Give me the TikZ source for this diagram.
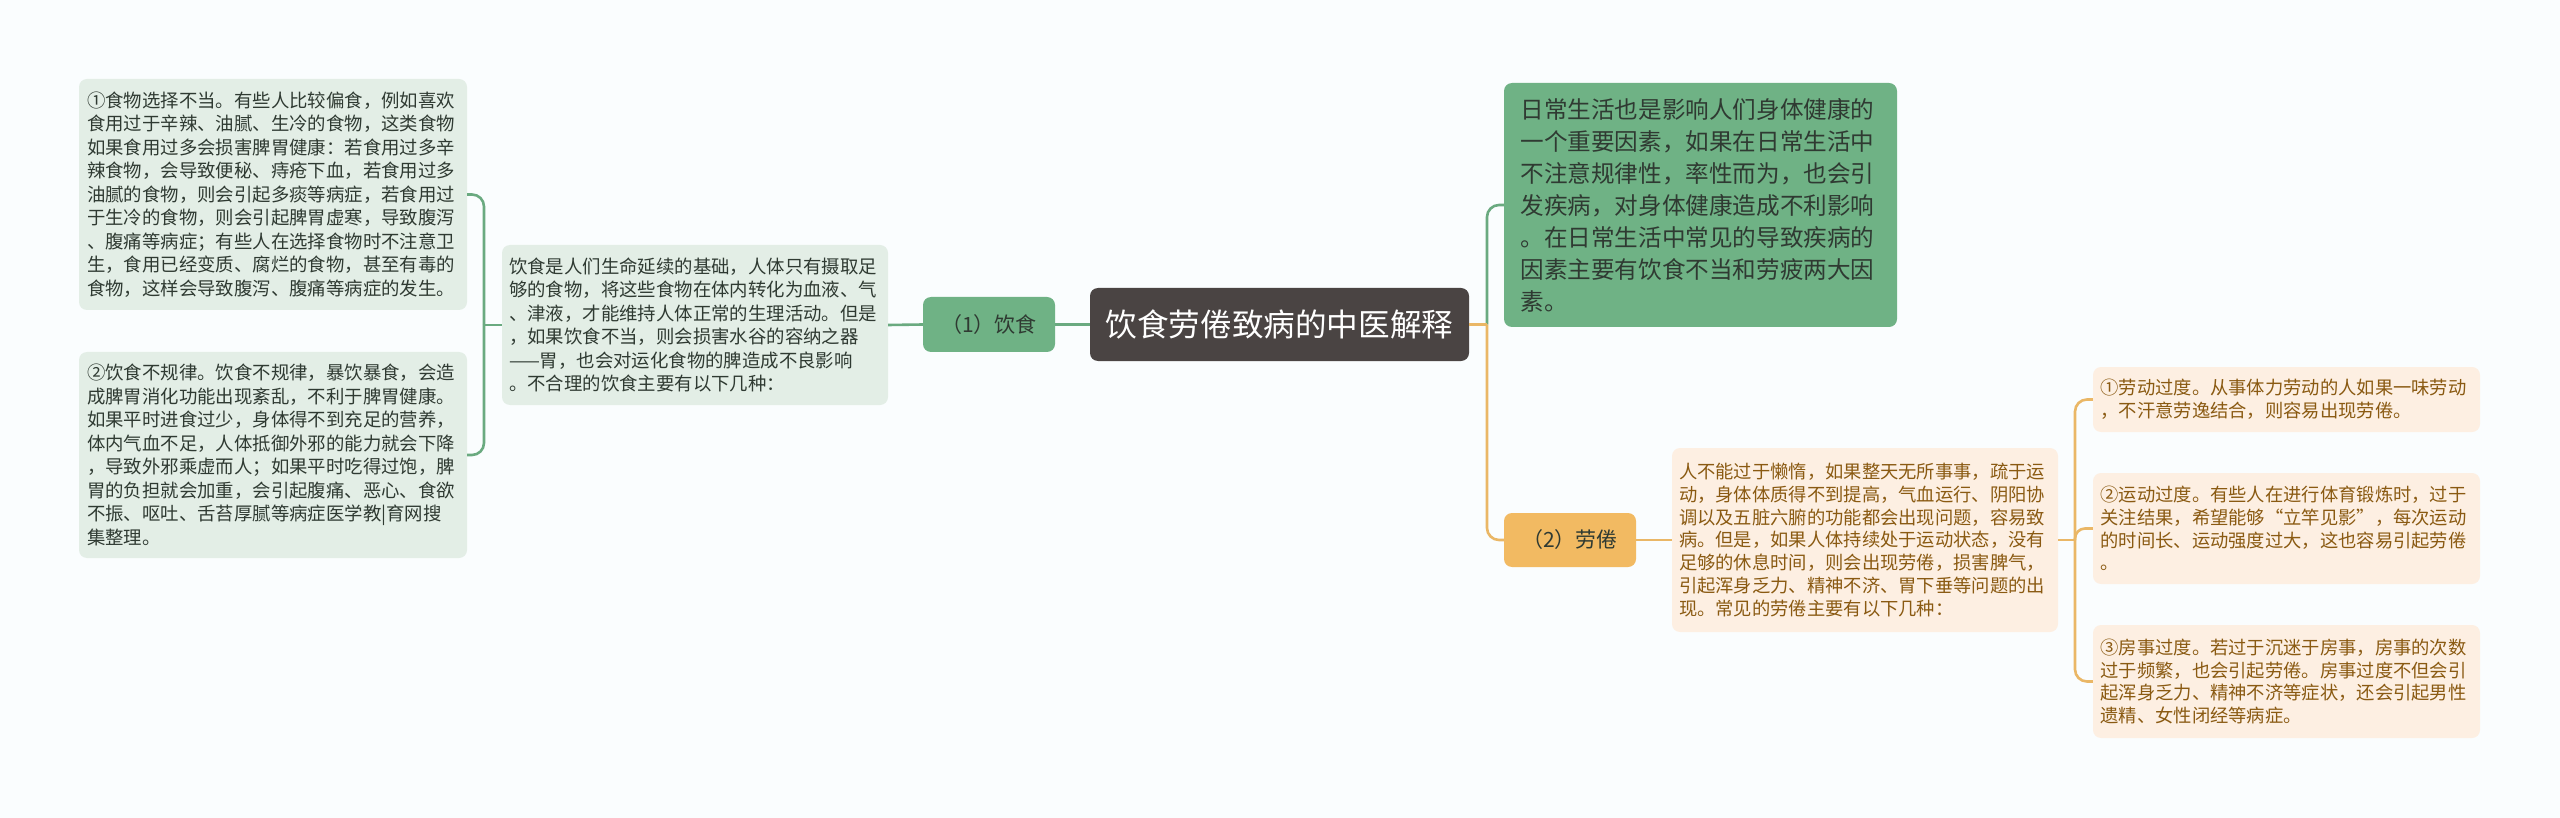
\documentclass[tikz,border=0pt]{standalone}
\usepackage{fontspec}
\setmainfont{Noto Sans CJK SC}
\usepackage{tikz}
\definecolor{ink}{HTML}{4A4443}
\definecolor{mint}{HTML}{6FB285}
\definecolor{mintln}{HTML}{6AAA80}
\definecolor{mintsoft}{HTML}{E3EEE6}
\definecolor{amber}{HTML}{F2BA62}
\definecolor{amberln}{HTML}{EAB766}
\definecolor{peach}{HTML}{FDEFE2}
\definecolor{tan}{HTML}{8A5A12}
\definecolor{leaf}{HTML}{2F3A32}
\definecolor{bg}{HTML}{FAFDFE}
\tikzset{
  box/.style={rounded corners=8pt,inner sep=0pt,align=left},
  sz/.style 2 args={minimum width=#1,minimum height=#2},
  rootbox/.style={box,fill=ink,text=white,font=\fontsize{31.6pt}{38pt}\selectfont},
  gbox/.style={box,fill=mint,text=leaf},
  lbox/.style={box,fill=mintsoft,text=leaf,text width=372pt,font=\fontsize{18.4pt}{23.5pt}\selectfont},
  obox/.style={box,fill=amber,text=leaf,font=\fontsize{21pt}{25pt}\selectfont},
  pbox/.style={box,fill=peach,text=tan,text width=372pt,font=\fontsize{18.3pt}{22.8pt}\selectfont},
  gline/.style={draw=mintln,line width=2.6pt},
  oline/.style={draw=amberln,line width=2.6pt},
}

\begin{document}
\begin{tikzpicture}[x=1pt,y=-1pt]
\fill[bg] (0,0) rectangle (2560,818);
% centre
\node[rootbox,sz={379pt}{73pt}] (root) at (1279.5,324.5) {饮食劳倦致病的中医解释};
% left: diet
\node[obox,fill=mint,sz={132pt}{55pt}] (yinshi) at (989,324.5) {（1）饮食};
\node[lbox,sz={386pt}{160pt}] (dietintro) at (695,325) {饮食是人们生命延续的基础，人体只有摄取足\\够的食物，将这些食物在体内转化为血液、气\\、津液，才能维持人体正常的生理活动。但是\\，如果饮食不当，则会损害水谷的容纳之器\\——胃，也会对运化食物的脾造成不良影响\\。不合理的饮食主要有以下几种：};
\node[lbox,sz={388pt}{231pt}] (dietA) at (273,194.5) {①食物选择不当。有些人比较偏食，例如喜欢\\食用过于辛辣、油腻、生冷的食物，这类食物\\如果食用过多会损害脾胃健康：若食用过多辛\\辣食物，会导致便秘、痔疮下血，若食用过多\\油腻的食物，则会引起多痰等病症，若食用过\\于生冷的食物，则会引起脾胃虚寒，导致腹泻\\、腹痛等病症；有些人在选择食物时不注意卫\\生，食用已经变质、腐烂的食物，甚至有毒的\\食物，这样会导致腹泻、腹痛等病症的发生。};
\node[lbox,sz={388pt}{206pt}] (dietB) at (273,455) {②饮食不规律。饮食不规律，暴饮暴食，会造\\成脾胃消化功能出现紊乱，不利于脾胃健康。\\如果平时进食过少，身体得不到充足的营养，\\体内气血不足，人体抵御外邪的能力就会下降\\，导致外邪乘虚而人；如果平时吃得过饱，脾\\胃的负担就会加重，会引起腹痛、恶心、食欲\\不振、呕吐、舌苔厚腻等病症医学教|育网搜\\集整理。};
% right: overview and fatigue
\node[gbox,sz={393pt}{244pt},text width=360pt,font=\fontsize{23.6pt}{32pt}\selectfont] (overview) at (1700.5,205) {日常生活也是影响人们身体健康的\\一个重要因素，如果在日常生活中\\不注意规律性，率性而为，也会引\\发疾病，对身体健康造成不利影响\\。在日常生活中常见的导致疾病的\\因素主要有饮食不当和劳疲两大因\\素。};
\node[obox,sz={132pt}{54pt}] (fatigue) at (1570,540) {（2）劳倦};
\node[pbox,sz={386pt}{184pt}] (fatigueintro) at (1865,540) {人不能过于懒惰，如果整天无所事事，疏于运\\动，身体体质得不到提高，气血运行、阴阳协\\调以及五脏六腑的功能都会出现问题，容易致\\病。但是，如果人体持续处于运动状态，没有\\足够的休息时间，则会出现劳倦，损害脾气，\\引起浑身乏力、精神不济、胃下垂等问题的出\\现。常见的劳倦主要有以下几种：};
\node[pbox,sz={387pt}{65pt}] (fatigueA) at (2286.5,399.5) {①劳动过度。从事体力劳动的人如果一味劳动\\，不汗意劳逸结合，则容易出现劳倦。};
\node[pbox,sz={387pt}{111pt}] (fatigueB) at (2286.5,528.5) {②运动过度。有些人在进行体育锻炼时，过于\\关注结果，希望能够“立竿见影”，每次运动\\的时间长、运动强度过大，这也容易引起劳倦\\。};
\node[pbox,sz={387pt}{113pt}] (fatigueC) at (2286.5,681.5) {③房事过度。若过于沉迷于房事，房事的次数\\过于频繁，也会引起劳倦。房事过度不但会引\\起浑身乏力、精神不济等症状，还会引起男性\\遗精、女性闭经等病症。};
% forks
\coordinate (dietfork) at (484,325);
\coordinate (rootfork) at (1487,324.5);
\coordinate (fatiguefork) at (2075,540);
% connectors
\draw[gline] (root.west) -- (yinshi.east);
\draw[gline] (yinshi.west) -- (dietintro.east);
\draw[gline] (dietintro.west) -- (dietfork);
\draw[gline,rounded corners=12pt] (dietfork) |- (dietA.east);
\draw[gline,rounded corners=12pt] (dietfork) |- (dietB.east);
\draw[oline,rounded corners=12pt] (rootfork) |- (fatigue.west);
\draw[gline,rounded corners=12pt] (rootfork) |- (overview.west);
\draw[oline] (root.east) -- (rootfork);
\draw[oline] (fatigue.east) -- (fatigueintro.west);
\draw[oline] (fatigueintro.east) -- (fatiguefork);
\draw[oline,rounded corners=12pt] (fatiguefork) |- (fatigueA.west);
\draw[oline,rounded corners=10pt] (fatiguefork) |- (fatigueB.west);
\draw[oline,rounded corners=12pt] (fatiguefork) |- (fatigueC.west);
\end{tikzpicture}
\end{document}
